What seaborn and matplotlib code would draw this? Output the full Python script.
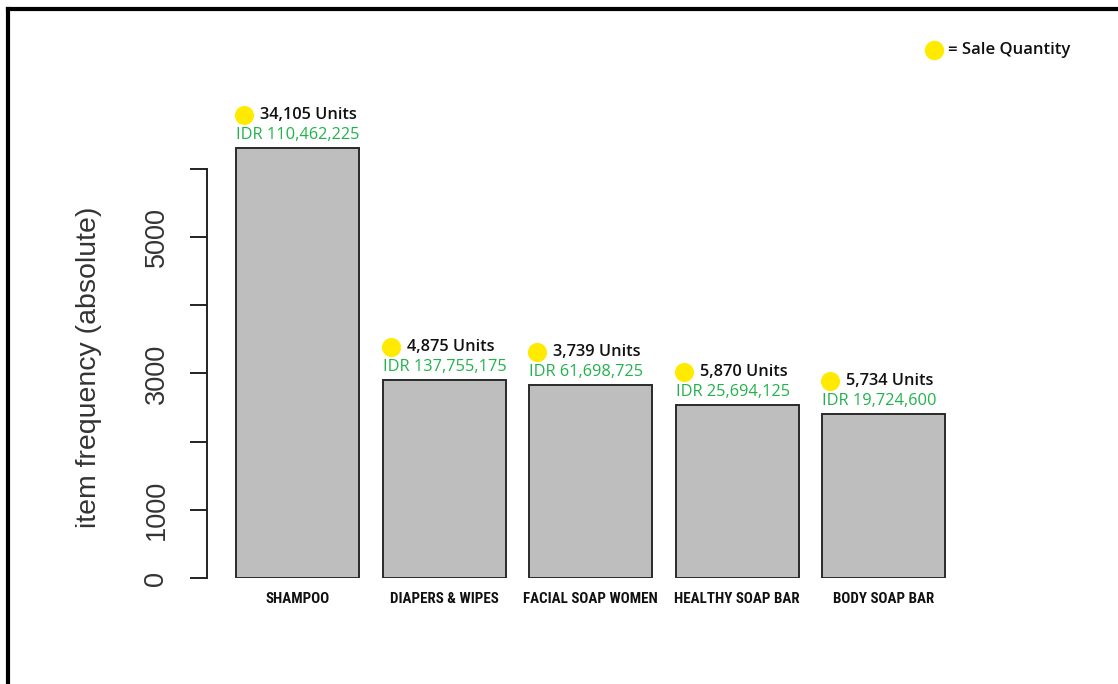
import matplotlib
matplotlib.use("Agg")
import matplotlib.pyplot as plt
import matplotlib.transforms as mtransforms
from matplotlib.lines import Line2D
from matplotlib import font_manager
import seaborn as sns
import pandas as pd

categories = ["SHAMPOO", "DIAPERS & WIPES", "FACIAL SOAP WOMEN", "HEALTHY SOAP BAR", "BODY SOAP BAR"]
frequency = [6315, 2910, 2828, 2535, 2400]
units_sold = [34105, 4875, 3739, 5870, 5734]
revenue_idr = [110462225, 137755175, 61698725, 25694125, 19724600]
y_ticks = [0, 1000, 2000, 3000, 4000, 5000, 6000]
y_tick_labels = ["0", "1000", "", "3000", "", "5000", ""]

df = pd.DataFrame({"category": categories, "frequency": frequency})

sns.set_theme(style="white")
plt.rcParams["font.family"] = ["Liberation Sans", "DejaVu Sans"]

# pick a narrow face for the category labels when one is installed
installed = {f.name for f in font_manager.fontManager.ttflist}
narrow_candidates = ["Liberation Sans Narrow", "Roboto Condensed", "DejaVu Sans Condensed",
                     "Open Sans Condensed"]
narrow_font = next((n for n in narrow_candidates if n in installed), "Liberation Sans")
narrow_size = {"Liberation Sans Narrow": 10.5, "Roboto Condensed": 10.8,
               "DejaVu Sans Condensed": 9.3, "Open Sans Condensed": 10.8}.get(narrow_font, 9.2)

W, H = 1118, 684
fig = plt.figure(figsize=(W / 100, H / 100), dpi=100)
fig.patch.set_facecolor("white")

# axes placed in pixel terms: left spine at x=207, zero line at y=578
left_px, right_px, bottom_px, top_px = 207, 1000, 578, 20
ax = fig.add_axes([left_px / W, 1 - bottom_px / H,
                   (right_px - left_px) / W, (bottom_px - top_px) / H])

bar_w = 123 / 146.6
sns.barplot(data=df, x="category", y="frequency", ax=ax, color="#BEBEBE",
            saturation=1, width=bar_w, edgecolor="#2a2a2a", linewidth=1.4)

x0 = (left_px - 297.5) / 146.6
x1 = (right_px - 297.5) / 146.6
ax.set_xlim(x0, x1)
ax.set_ylim(0, (bottom_px - top_px) / 0.06817)

for s in ["top", "right", "bottom"]:
    ax.spines[s].set_visible(False)
ax.spines["left"].set_bounds(0, 6000)
ax.spines["left"].set_color("#222222")
ax.spines["left"].set_linewidth(1.4)

ax.set_yticks(y_ticks)
ax.set_yticklabels(y_tick_labels, rotation=90, va="center", fontsize=19.5, color="#333333")
ax.tick_params(axis="y", direction="out", length=12, width=1.4, color="#222222", pad=15, left=True)
ax.tick_params(axis="x", length=0, pad=10)
for lbl in ax.get_xticklabels():
    lbl.set_family([narrow_font, "DejaVu Sans"])
    lbl.set_fontweight("semibold")
    lbl.set_fontsize(narrow_size)
    lbl.set_color("#111111")

ax.set_xlabel("")
ax.set_ylabel("item frequency (absolute)", fontsize=20.5, color="#333333")
ax.yaxis.set_label_coords((102 - left_px) / (right_px - left_px), (bottom_px - 367) / (bottom_px - top_px))

label_font = ["Open Sans", "DejaVu Sans"]
yellow = "#FFEA00"
green = "#22B24C"
for i, (freq, u, rev) in enumerate(zip(frequency, units_sold, revenue_idr)):
    bx = i - bar_w / 2
    ax.annotate(f"IDR {rev:,}", xy=(bx, freq), xytext=(0, 13),
                textcoords="offset pixels", ha="left", va="center",
                fontsize=11.8, color=green, family=label_font, fontweight="medium")
    ax.annotate(f"{u:,} Units", xy=(bx, freq), xytext=(24, 33),
                textcoords="offset pixels", ha="left", va="center",
                fontsize=11.8, color="#111111", family=label_font, fontweight="semibold")
    dot_tr = mtransforms.offset_copy(ax.transData, fig=fig, x=8, y=33, units="dots")
    ax.scatter([bx], [freq], s=190, color=yellow, transform=dot_tr, zorder=5,
               linewidths=0, clip_on=False)

# legend marker and caption
fig.add_artist(Line2D([934 / W], [1 - 50 / H], marker="o", markersize=14,
                      color=yellow, markeredgewidth=0, linestyle="none",
                      transform=fig.transFigure))
fig.text(948 / W, 1 - 50 / H, "= Sale Quantity", ha="left", va="center",
         fontsize=12, fontweight="semibold", color="#111111", family=label_font)

# outer frame along top and left edges
fig.add_artist(Line2D([7.5 / W, 1.0], [1 - 9 / H, 1 - 9 / H], color="black",
                      linewidth=3, transform=fig.transFigure, solid_capstyle="projecting"))
fig.add_artist(Line2D([7.5 / W, 7.5 / W], [1 - 9 / H, 0.0], color="black",
                      linewidth=3, transform=fig.transFigure, solid_capstyle="projecting"))

fig.savefig("out.png", dpi=100, facecolor="white")
